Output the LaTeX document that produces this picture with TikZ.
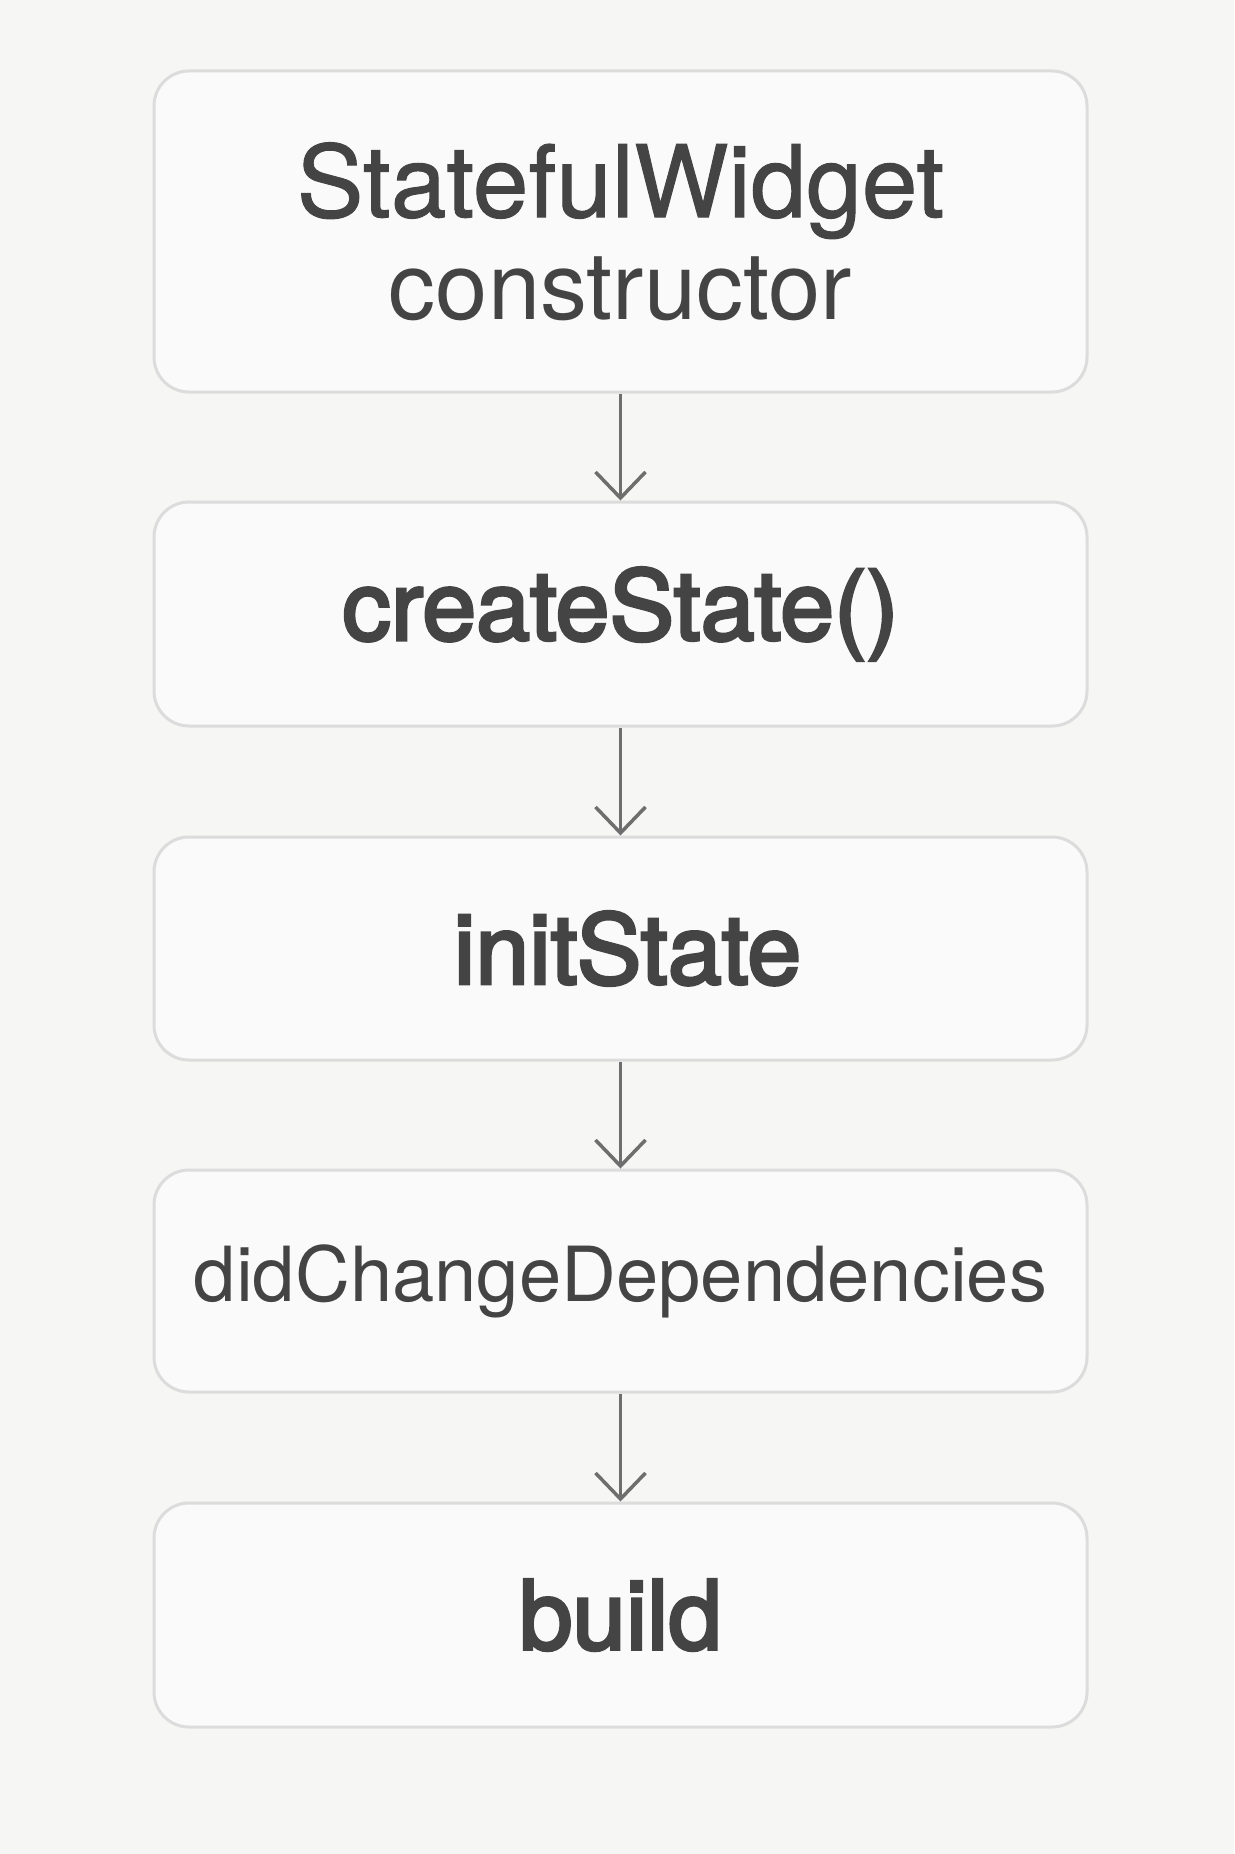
\documentclass[tikz,border=0pt]{standalone}
\usepackage{fontspec}
\setmainfont{TeX Gyre Heros}
\newfontface\midface{TeX Gyre Heros}[FakeBold=1]
\newfontface\semiface{TeX Gyre Heros}[FakeBold=3.2]
\usetikzlibrary{arrows.meta}
\definecolor{paper}{HTML}{F6F6F4}
\definecolor{boxfill}{HTML}{FAFAFA}
\definecolor{boxline}{HTML}{DCDCDC}
\definecolor{ink}{HTML}{444444}
\definecolor{arrowgray}{HTML}{6E6E6E}
\tikzset{
	stagebox/.style={draw=boxline, fill=boxfill, line width=3pt, rounded corners=35pt,
		minimum width=933pt, text=ink, align=center, inner sep=0pt},
	flow/.style={draw=arrowgray, line width=3.5pt, -{Straight Barb[length=26pt, width=50pt]}}
}
\begin{document}
\begin{tikzpicture}[x=1pt, y=-1pt]
\fill[paper] (0,0) rectangle (1234,1854);
\useasboundingbox (0,0) rectangle (1234,1854);
\node[stagebox, minimum height=321pt, font=\fontsize{100}{102}\selectfont] (ctor) at (620.5,231.5)
	{\midface StatefulWidget\\\fontsize{94}{102}\selectfont constructor};
\node[stagebox, minimum height=224pt, font=\fontsize{97}{100}\selectfont\semiface] (create) at (620.5,614)
	{createState()};
\node[stagebox, minimum height=223pt, font=\fontsize{97}{100}\selectfont\semiface] (init) at (620.5,948.5)
	{\hspace*{14pt}initState};
\node[stagebox, minimum height=222pt, font=\fontsize{76}{90}\selectfont] (deps) at (620.5,1281)
	{didChangeDependencies};
\node[stagebox, minimum height=224pt, font=\fontsize{96}{100}\selectfont\semiface] (build) at (620.5,1615)
	{build};
\foreach \a/\b in {ctor/create, create/init, init/deps, deps/build}
{
	\draw[flow] (\a) -- (\b);
}
\end{tikzpicture}
\end{document}
